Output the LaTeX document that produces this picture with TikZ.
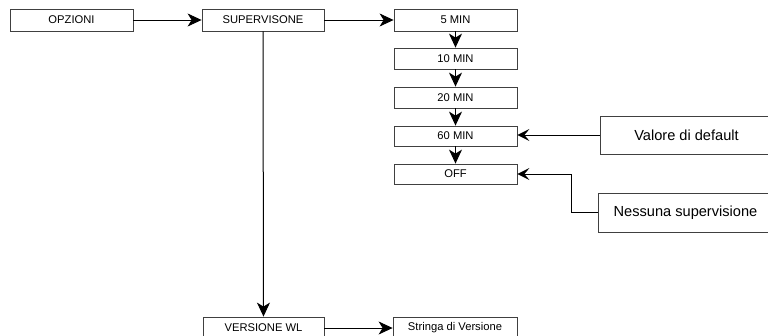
\documentclass[tikz,border=0pt]{standalone}
\usepackage{fontspec}
\setmainfont{Liberation Sans}
\usetikzlibrary{arrows.meta}
\begin{document}
\begin{tikzpicture}[x=1pt,y=-1pt,
  box/.style={draw=black!75,line width=0.8pt,fill=white,inner sep=0pt,minimum width=123pt,minimum height=22pt,font=\fontsize{11.2}{13}\selectfont},
  bigbox/.style={box,minimum width=173pt,minimum height=38pt,font=\fontsize{14.6}{17}\selectfont},
  conn/.style={draw=black,line width=1pt,-{Stealth[length=14pt,width=13pt,inset=4pt]}},
  sconn/.style={draw=black,line width=1pt,-{Stealth[length=12pt,width=12pt,inset=5pt]}}]
\clip (0,0) rectangle (768,335);
\fill[white] (0,0) rectangle (768,335);
\node[box] (opz) at (71.5,20) {OPZIONI};
\node[box,minimum width=122pt] (sup) at (263,20) {SUPERVISONE};
\node[box] (m5) at (455.5,20) {5 MIN};
\node[box,minimum height=21pt] (m10) at (455.5,58.5) {10 MIN};
\node[box,minimum height=21pt] (m20) at (455.5,97.5) {20 MIN};
\node[box,minimum height=20pt] (m60) at (455.5,136) {60 MIN};
\node[box,minimum height=20pt] (off) at (455.5,174) {OFF};
\node[bigbox] (val) at (686.5,135) {Valore di default};
\node[bigbox,minimum height=39pt,minimum width=175pt] (nes) at (685.5,212.5) {Nessuna supervisione};
\node[box,minimum width=121pt] (ver) at (263.5,328) {VERSIONE WL};
\node[box,minimum width=124pt] (str) at (455,328) {Stringa di Versione};
\draw[conn] (opz) -- (sup);
\draw[conn] (sup) -- (m5);
\draw[conn] (m5) -- (m10);
\draw[conn] (m10) -- (m20);
\draw[conn] (m20) -- (m60);
\draw[conn] (m60) -- (off);
\draw[sconn] (val.west) -- (val.west -| m60.east);
\coordinate (bend) at (571,174);
\draw[sconn] (nes.west) -| (bend) -- (off.east);
\draw[conn] (sup) -- (ver);
\draw[conn] (ver) -- (str);
\end{tikzpicture}
\end{document}
